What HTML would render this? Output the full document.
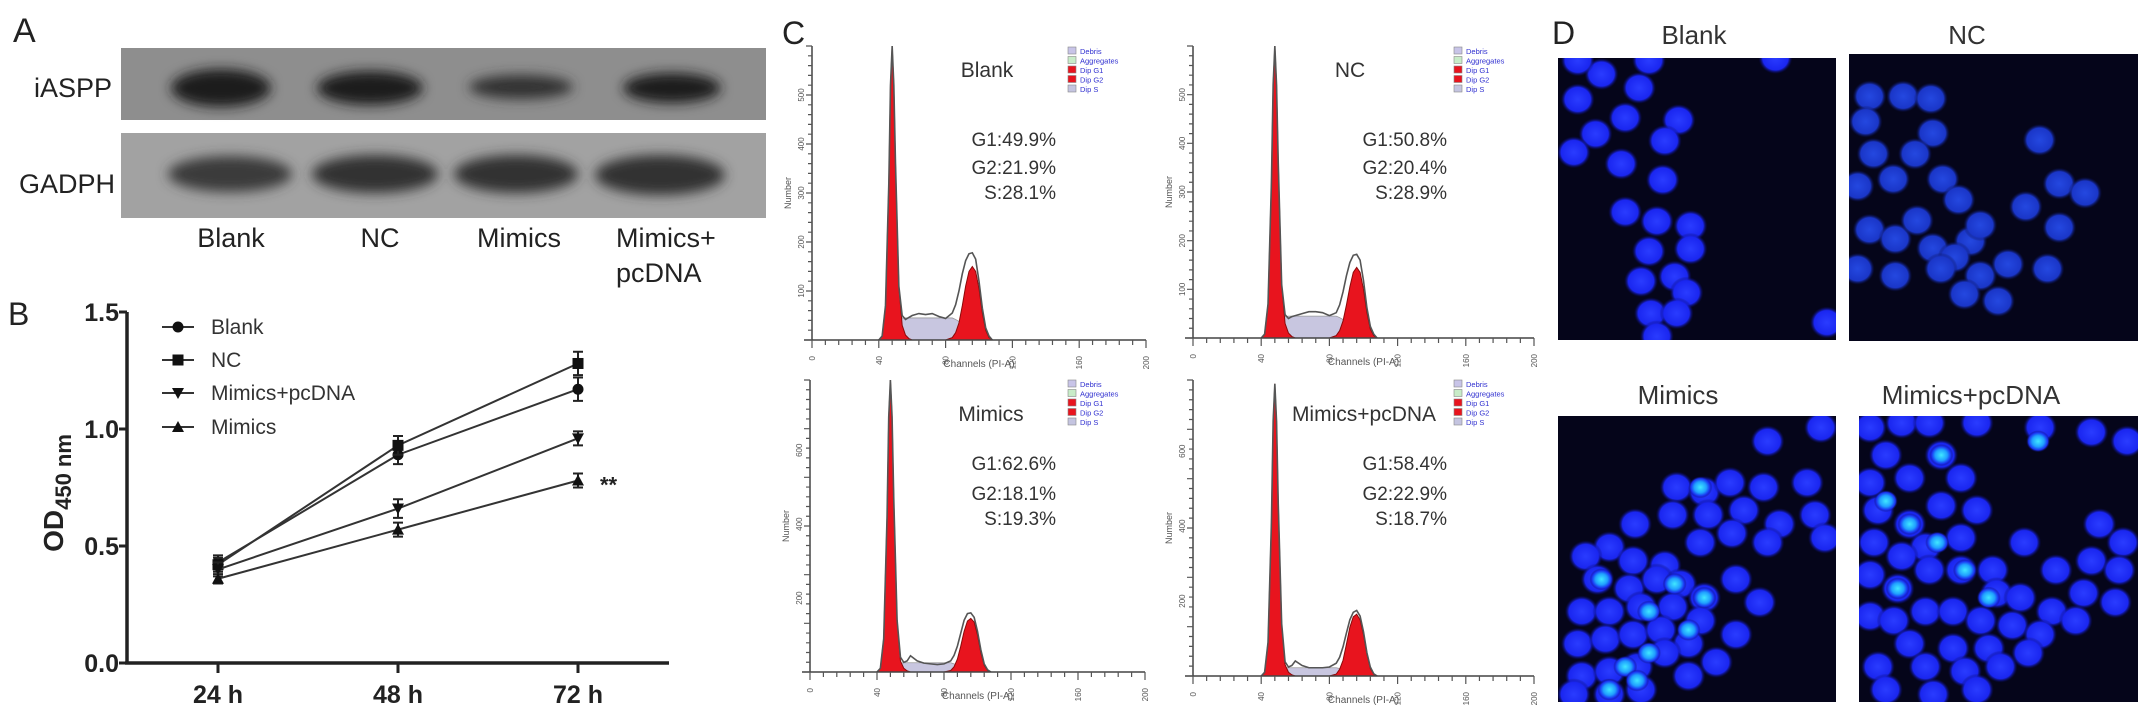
<!DOCTYPE html>
<html><head><meta charset="utf-8"><style>
html,body{margin:0;padding:0;background:#fff;}
svg{display:block;font-family:"Liberation Sans",Arial,sans-serif;}
</style></head><body>
<svg id="fig" width="2150" height="718" viewBox="0 0 2150 718" xmlns="http://www.w3.org/2000/svg">
<defs>
 <filter id="blur6" x="-30%" y="-50%" width="160%" height="200%"><feGaussianBlur stdDeviation="6"/></filter>
 <radialGradient id="nucB"><stop offset="0" stop-color="#2a3cff"/><stop offset="0.75" stop-color="#1a26f0"/><stop offset="1" stop-color="#0a0a60" stop-opacity="0"/></radialGradient>
 <radialGradient id="nucN"><stop offset="0" stop-color="#2448e0"/><stop offset="0.75" stop-color="#1a36c8"/><stop offset="1" stop-color="#0a1050" stop-opacity="0"/></radialGradient>
 <radialGradient id="nucC"><stop offset="0" stop-color="#40e8ff"/><stop offset="0.5" stop-color="#20a0ff"/><stop offset="0.8" stop-color="#1a30f0"/><stop offset="1" stop-color="#0a0a60" stop-opacity="0"/></radialGradient>
</defs>

<g>
 <text x="13" y="42" font-size="34" fill="#222">A</text>
 <rect x="121" y="48" width="645" height="72" fill="#8e8e8e"/>
 <rect x="121" y="133" width="645" height="85" fill="#a2a2a2"/>
 <g filter="url(#blur6)" fill="#1c1c1c">
  <ellipse cx="221" cy="88" rx="50" ry="19"/>
  <ellipse cx="370" cy="88" rx="53" ry="17"/>
  <ellipse cx="521" cy="87" rx="52" ry="12" fill="#333"/>
  <ellipse cx="672" cy="88" rx="49" ry="15"/>
  <ellipse cx="230" cy="174" rx="62" ry="18" fill="#3a3a3a"/>
  <ellipse cx="375" cy="174" rx="63" ry="19" fill="#333"/>
  <ellipse cx="516" cy="174" rx="62" ry="19" fill="#333"/>
  <ellipse cx="660" cy="175" rx="65" ry="20" fill="#333"/>
 </g>
 <g font-size="27" fill="#222">
  <text x="112" y="97" text-anchor="end">iASPP</text>
  <text x="115" y="193" text-anchor="end">GADPH</text>
  <text x="231" y="247" text-anchor="middle">Blank</text>
  <text x="380" y="247" text-anchor="middle">NC</text>
  <text x="519" y="247" text-anchor="middle">Mimics</text>
  <text x="616" y="247">Mimics+</text>
  <text x="616" y="282">pcDNA</text>
 </g>
</g>

<g id="panelB">
 <text x="8" y="325" font-size="32" fill="#222">B</text>
</g>

<g id="panelC">
 <text x="782" y="44" font-size="32" fill="#222">C</text>
</g>

<g id="panelD">
 <text x="1552" y="44" font-size="32" fill="#222">D</text>
</g>
</svg>

<script>
const bCategories = ['24 h', '48 h', '72 h'];
const bSeriesNames = ['Blank', 'NC', 'Mimics+pcDNA', 'Mimics'];
const blankValues = [0.43, 0.89, 1.17];
const ncValues = [0.42, 0.93, 1.28];
const pcdnaValues = [0.40, 0.66, 0.96];
const mimicsValues = [0.36, 0.57, 0.78];
const blankErr = [0.03, 0.04, 0.05];
const ncErr = [0.03, 0.04, 0.05];
const pcdnaErr = [0.03, 0.04, 0.03];
const mimicsErr = [0.02, 0.03, 0.03];
const bYTicks = [0.0, 0.5, 1.0, 1.5];
const bYTickLabels = ['0.0', '0.5', '1.0', '1.5'];

const cChannels = [40,42,44,46,47,48,49,50,52,54,56,58,60,64,68,72,76,80,84,86,88,90,92,94,96,98,100,102,104,106,108];
const cTitles = ['Blank', 'NC', 'Mimics', 'Mimics+pcDNA'];
const cG1Text = ['G1:49.9%', 'G1:50.8%', 'G1:62.6%', 'G1:58.4%'];
const cG2Text = ['G2:21.9%', 'G2:20.4%', 'G2:18.1%', 'G2:22.9%'];
const cSText = ['S:28.1%', 'S:28.9%', 'S:19.3%', 'S:18.7%'];
const blankTotal = [0,8,70,320,520,600,520,360,110,50,42,46,50,54,52,54,48,44,55,72,100,135,162,176,178,165,120,65,25,8,0];
const ncTotal    = [0,8,70,320,520,600,520,360,110,48,40,44,46,50,54,54,52,46,52,68,95,128,155,170,172,160,118,62,24,8,0];
const mimicsTotal= [0,10,90,420,690,790,690,470,140,40,26,30,44,30,24,22,20,22,30,45,70,105,140,158,160,148,110,60,22,6,0];
const pcdnaTotal = [0,10,90,410,680,780,680,460,140,38,24,28,40,28,22,22,22,24,34,50,78,115,150,170,175,160,118,62,24,6,0];
const blankG2 = [0,0,0,0,0,0,0,0,0,0,0,0,0,0,0,0,0,0,5,15,35,70,110,140,150,140,105,55,20,5,0];
const ncG2    = [0,0,0,0,0,0,0,0,0,0,0,0,0,0,0,0,0,0,5,15,35,68,105,135,145,135,100,52,18,5,0];
const mimicsG2= [0,0,0,0,0,0,0,0,0,0,0,0,0,0,0,0,0,0,4,14,35,70,110,138,145,135,100,52,18,4,0];
const pcdnaG2 = [0,0,0,0,0,0,0,0,0,0,0,0,0,0,0,0,0,0,5,18,42,85,130,158,165,150,110,58,20,5,0];
const blankG1 = [0,8,70,320,520,600,520,360,110,30,10,3,0,0,0,0,0,0,0,0,0,0,0,0,0,0,0,0,0,0,0];
const ncG1    = [0,8,70,320,520,600,520,360,110,30,10,3,0,0,0,0,0,0,0,0,0,0,0,0,0,0,0,0,0,0,0];
const mimicsG1= [0,10,90,420,690,790,690,470,140,30,10,3,0,0,0,0,0,0,0,0,0,0,0,0,0,0,0,0,0,0,0];
const pcdnaG1 = [0,10,90,410,680,780,680,460,140,30,10,3,0,0,0,0,0,0,0,0,0,0,0,0,0,0,0,0,0,0,0];
const blankS  = [0,0,0,0,0,0,0,8,30,45,45,45,45,45,45,45,45,45,45,42,38,30,20,10,0,0,0,0,0,0,0];
const ncS     = [0,0,0,0,0,0,0,8,30,44,45,45,45,45,45,45,45,45,45,42,38,30,20,10,0,0,0,0,0,0,0];
const mimicsS = [0,0,0,0,0,0,0,6,18,24,25,25,25,25,25,25,25,25,25,22,18,14,10,5,0,0,0,0,0,0,0];
const pcdnaS  = [0,0,0,0,0,0,0,6,18,22,22,22,22,22,22,22,22,22,22,20,16,12,8,4,0,0,0,0,0,0,0];
const cXTicks = [0, 40, 80, 120, 160, 200];
const cXTickLabels = ['0', '40', '80', '120', '160', '200'];

const NS = 'http://www.w3.org/2000/svg';
function mk(tag, attrs, parent) {
  const e = document.createElementNS(NS, tag);
  for (const k in attrs) e.setAttribute(k, attrs[k]);
  parent.appendChild(e);
  return e;
}

(function(){
  const g = document.getElementById('panelB');
  const x0 = 127, y0 = 663, yTop = 312, xEnd = 669;
  const xS = i => 218 + i * 180;
  const yS = v => y0 - v * (y0 - yTop) / 1.5;
  let el;
  el = mk('line', {x1:x0, y1:yTop, x2:x0, y2:y0+1, stroke:'#222', 'stroke-width':3.5}, g);
  
  
  el = mk('line', {x1:x0-2, y1:y0, x2:xEnd, y2:y0, stroke:'#222', 'stroke-width':3.5}, g);
  
  
  bYTicks.forEach((t, i) => {
    const y = yS(t);
    let tk = mk('line', {x1:x0-8, y1:y, x2:x0, y2:y, stroke:'#222', 'stroke-width':3}, g);
    
    
    let tl = mk('text', {x:x0-8, y:y+9, 'text-anchor':'end', 'font-size':25, 'font-weight':'bold', fill:'#222'}, g);
    tl.textContent = bYTickLabels[i];
    
    
  });
  bCategories.forEach((c, i) => {
    const x = xS(i);
    let tk = mk('line', {x1:x, y1:y0, x2:x, y2:y0+10, stroke:'#222', 'stroke-width':3}, g);
    
    
    let tl = mk('text', {x:x, y:y0+40, 'text-anchor':'middle', 'font-size':25, 'font-weight':'bold', fill:'#222'}, g);
    tl.textContent = c;
    
    
  });
  let yt = mk('text', {transform:'translate(63,493) rotate(-90)', 'text-anchor':'middle', 'font-size':28, 'font-weight':'bold', fill:'#222'}, g);
  yt.innerHTML = 'OD<tspan font-size="22" dy="8">450 nm</tspan>';
  
  

  const series = [blankValues, ncValues, pcdnaValues, mimicsValues];
  const errs = [blankErr, ncErr, pcdnaErr, mimicsErr];
  const markers = ['circle', 'square', 'down', 'up'];
  function marker(type, x, y, parent) {
    if (type === 'circle') return mk('circle', {cx:x, cy:y, r:5.5, fill:'#111'}, parent);
    if (type === 'square') return mk('rect', {x:x-5.5, y:y-5.5, width:11, height:11, fill:'#111'}, parent);
    if (type === 'down') return mk('polygon', {points:`${x-6},${y-5} ${x+6},${y-5} ${x},${y+6}`, fill:'#111'}, parent);
    return mk('polygon', {points:`${x-6},${y+5} ${x+6},${y+5} ${x},${y-6}`, fill:'#111'}, parent);
  }
  series.forEach((vals, s) => {
    const pts = vals.map((v, i) => `${xS(i)},${yS(v)}`).join(' ');
    let pl = mk('polyline', {points:pts, fill:'none', stroke:'#333', 'stroke-width':2}, g);
    
    
    vals.forEach((v, i) => {
      const x = xS(i), e = errs[s][i];
      let eb = mk('path', {d:`M${x},${yS(v+e)}V${yS(v-e)}M${x-5},${yS(v+e)}H${x+5}M${x-5},${yS(v-e)}H${x+5}`, stroke:'#222', 'stroke-width':2, fill:'none'}, g);
      
      
      let m = marker(markers[s], x, yS(v), g);
      
      
    });
  });
  let st = mk('text', {x:xS(2)+22, y:yS(mimicsValues[2])+12, 'font-size':22, 'font-weight':'bold', fill:'#222'}, g);
  st.textContent = '**';
  
  
  const legY = [327, 360, 393, 427];
  bSeriesNames.forEach((n, i) => {
    let ln = mk('line', {x1:162, y1:legY[i], x2:194, y2:legY[i], stroke:'#333', 'stroke-width':2}, g);
    
    
    let m = marker(markers[i], 178, legY[i], g);
    
    
    let t = mk('text', {x:211, y:legY[i]+7, 'font-size':21, fill:'#333'}, g);
    t.textContent = n;
    
    
  });
})();

(function(){
  const g = document.getElementById('panelC');
  const panels = [
    {x0:812, base:340, top:46, w:334, max:600, tot:blankTotal, g1:blankG1, g2:blankG2, s:blankS, yt:[0,100,200,300,400,500], tx:987, ty:77, statR:1056, sy:[146,174,199], legX:1068, legY:47},
    {x0:1193, base:338, top:46, w:341, max:600, tot:ncTotal, g1:ncG1, g2:ncG2, s:ncS, yt:[0,100,200,300,400,500], tx:1350, ty:77, statR:1447, sy:[146,174,199], legX:1454, legY:47},
    {x0:810, base:672, top:380, w:335, max:790, tot:mimicsTotal, g1:mimicsG1, g2:mimicsG2, s:mimicsS, yt:[0,200,400,600], tx:991, ty:421, statR:1056, sy:[470,500,525], legX:1068, legY:380},
    {x0:1193, base:676, top:380, w:341, max:790, tot:pcdnaTotal, g1:pcdnaG1, g2:pcdnaG2, s:pcdnaS, yt:[0,200,400,600], tx:1364, ty:421, statR:1447, sy:[470,500,525], legX:1454, legY:380}
  ];
  const legNames = ['Debris', 'Aggregates', 'Dip G1', 'Dip G2', 'Dip S'];
  const legCols = ['#c8c4e8', '#c8ecc8', '#e8141e', '#e8141e', '#c4c4e0'];
  panels.forEach((p, k) => {
    const sub = mk('g', {}, g);
    
    
    const xs = ch => p.x0 + ch * p.w / 200;
    const ys = c => p.base - c * (p.base - p.top) / p.max;
    const poly = arr => 'M' + xs(cChannels[0]) + ',' + p.base + ' ' + arr.map((c, i) => 'L' + xs(cChannels[i]) + ',' + ys(c)).join(' ') + ' L' + xs(cChannels[cChannels.length-1]) + ',' + p.base + 'Z';
    let e;
    e = mk('path', {d:poly(p.s), fill:'#c8c6e0', stroke:'#999', 'stroke-width':0.8}, sub);
    
    
    e = mk('path', {d:poly(p.g1), fill:'#e8141e', stroke:'#8a0a0a', 'stroke-width':1}, sub);
    
    
    e = mk('path', {d:poly(p.g2), fill:'#e8141e', stroke:'#8a0a0a', 'stroke-width':1}, sub);
    
    
    const line = p.tot.map((c, i) => (i ? 'L' : 'M') + xs(cChannels[i]) + ',' + ys(c)).join(' ');
    e = mk('path', {d:line, fill:'none', stroke:'#555', 'stroke-width':1.6}, sub);
    
    
    e = mk('line', {x1:p.x0, y1:p.top, x2:p.x0, y2:p.base, stroke:'#444', 'stroke-width':1.5}, sub);
    
    
    e = mk('line', {x1:p.x0-8, y1:p.base, x2:p.x0+p.w, y2:p.base, stroke:'#444', 'stroke-width':1.5}, sub);
    
    
    let minor = '';
    for (let c = 0; c <= 200; c += 8) minor += `M${xs(c)},${p.base}v${c % 40 === 0 ? 8 : 5}`;
    const step = (p.base - p.top) / 30;
    for (let j = 0; j <= 30; j++) minor += `M${p.x0},${p.base - j*step}h${j % 5 === 0 ? -6 : -4}`;
    e = mk('path', {d:minor, stroke:'#555', 'stroke-width':1.2, fill:'none'}, sub);
    
    
    cXTicks.forEach((t, i) => {
      let tl = mk('text', {transform:`translate(${xs(t)+3},${p.base+16}) rotate(-90)`, 'text-anchor':'end', 'font-size':8, fill:'#555'}, sub);
      tl.textContent = cXTickLabels[i];
      
      
    });
    p.yt.forEach(t => {
      if (t === 0) return;
      let tl = mk('text', {transform:`translate(${p.x0-8},${ys(t)}) rotate(-90)`, 'text-anchor':'middle', 'font-size':8, fill:'#555'}, sub);
      tl.textContent = String(t);
      
      
    });
    e = mk('text', {x:xs(100), y:p.base+27, 'text-anchor':'middle', 'font-size':10, fill:'#555'}, sub);
    e.textContent = 'Channels (PI-A)';
    
    
    e = mk('text', {transform:`translate(${p.x0-21},${(p.top+p.base)/2}) rotate(-90)`, 'text-anchor':'middle', 'font-size':9, fill:'#555'}, sub);
    e.textContent = 'Number';
    
    
    e = mk('text', {x:p.tx, y:p.ty, 'text-anchor':'middle', 'font-size':21, fill:'#333'}, sub);
    e.textContent = cTitles[k];
    
    
    [cG1Text[k], cG2Text[k], cSText[k]].forEach((t, j) => {
      let tt = mk('text', {x:p.statR, y:p.sy[j], 'text-anchor':'end', 'font-size':19, fill:'#333'}, sub);
      tt.textContent = t;
      
      
    });
    legNames.forEach((n, j) => {
      let r = mk('rect', {x:p.legX, y:p.legY + j*9.5, width:8, height:7, fill:legCols[j], stroke:'#888', 'stroke-width':0.6}, sub);
      
      
      let t = mk('text', {x:p.legX+12, y:p.legY + j*9.5 + 7, 'font-size':7.5, fill:'#3030d0'}, sub);
      t.textContent = n;
      
      
    });
  });
})();

(function(){
  const g = document.getElementById('panelD');
  const imgs = [
    {name:'blank', title:'Blank', x:1558, y:58, w:278, h:282, tx:1694, ty:44, ox:70, oy:125, grad:'nucB',
     pts:[[180,160],[120,215],[165,290],[240,255],[275,190],[110,330],[230,355],[335,390],[375,260],[340,305],[240,460],[320,480],[405,490],[300,545],[405,540],[280,610],[365,600],[395,635],[305,680],[370,680],[320,730],[750,700],[120,130],[300,130],[620,125]]},
    {name:'nc', title:'NC', x:1849, y:54, w:289, h:287, tx:1967, ty:44, ox:808, oy:118, grad:'nucN',
     pts:[[860,210],[945,210],[1015,215],[850,265],[1020,290],[870,335],[975,335],[1290,305],[830,405],[920,390],[1045,390],[1085,435],[1255,450],[1340,400],[1405,420],[1340,495],[860,500],[925,520],[980,480],[1020,540],[1115,525],[1140,490],[1075,560],[830,585],[925,600],[1040,585],[1140,600],[1210,575],[1100,640],[1185,655],[1310,585]]},
    {name:'mimics', title:'Mimics', x:1558, y:416, w:278, h:286, tx:1678, ty:404, ox:70, oy:905, grad:'nucB',
     pts:[[600,960],[735,930],[370,1060],[440,1070],[505,1050],[590,1060],[700,1050],[265,1140],[360,1120],[450,1120],[540,1110],[630,1140],[720,1120],[745,1170],[200,1190],[140,1210],[260,1220],[340,1230],[430,1180],[510,1160],[600,1180],[170,1260],[250,1280],[320,1260],[380,1270],[440,1300],[520,1260],[580,1310],[130,1330],[200,1330],[280,1320],[360,1320],[430,1350],[520,1380],[120,1400],[190,1390],[260,1380],[330,1370],[400,1400],[470,1440],[130,1470],[200,1460],[270,1450],[340,1420],[400,1470],[110,1510],[200,1510],[280,1500]],
     bright:[[180,1260],[365,1270],[440,1300],[300,1330],[400,1370],[300,1420],[240,1450],[200,1500],[430,1060],[270,1480]]},
    {name:'mimics-pcdna', title:'Mimics+pcDNA', x:1859, y:416, w:279, h:286, tx:1971, ty:404, ox:832, oy:905, grad:'nucB',
     pts:[[860,930],[940,920],[1010,920],[1130,920],[1290,930],[1420,940],[1510,960],[900,990],[1040,990],[860,1050],[960,1040],[1090,1040],[880,1110],[1040,1100],[1130,1110],[960,1140],[870,1180],[1000,1190],[1090,1170],[1250,1180],[1440,1140],[1500,1180],[860,1250],[940,1210],[1010,1240],[1090,1240],[1170,1240],[1330,1240],[1420,1220],[1490,1240],[930,1280],[1180,1290],[1240,1300],[1320,1330],[1400,1290],[1480,1310],[860,1340],[920,1350],[1000,1330],[1070,1330],[1140,1350],[1220,1360],[1290,1380],[1380,1350],[960,1400],[1070,1410],[1160,1410],[1260,1420],[880,1450],[1000,1450],[1100,1460],[1190,1450],[900,1500],[1020,1510],[1130,1500]],
     bright:[[1040,990],[900,1090],[960,1140],[1030,1180],[930,1280],[1160,1300],[1285,960],[1100,1240]]}
  ];
  imgs.forEach(im => {
    const sub = mk('g', {}, g);
    
    
    let t = mk('text', {x:im.tx, y:im.ty, 'text-anchor':'middle', 'font-size':26, fill:'#333'}, g);
    t.textContent = im.title;
    
    
    const cid = 'clip-' + im.name;
    const cp = mk('clipPath', {id:cid}, sub);
    mk('rect', {x:im.x, y:im.y, width:im.w, height:im.h}, cp);
    let bg = mk('rect', {x:im.x, y:im.y, width:im.w, height:im.h, fill:'#05051a'}, sub);
    
    
    const cg = mk('g', {'clip-path':`url(#${cid})`}, sub);
    im.pts.forEach(p => {
      const cx = im.x + (p[0] - im.ox) * 0.3954, cy = im.y + (p[1] - im.oy) * 0.46;
      let c = mk('ellipse', {cx:cx, cy:cy, rx:17, ry:16, fill:`url(#${im.grad})`}, cg);
      
      
    });
    (im.bright || []).forEach(p => {
      const cx = im.x + (p[0] - im.ox) * 0.3954, cy = im.y + (p[1] - im.oy) * 0.46;
      let c = mk('ellipse', {cx:cx, cy:cy, rx:12, ry:11, fill:'url(#nucC)'}, cg);
      
      
    });
  });
})();
</script>
</body></html>
